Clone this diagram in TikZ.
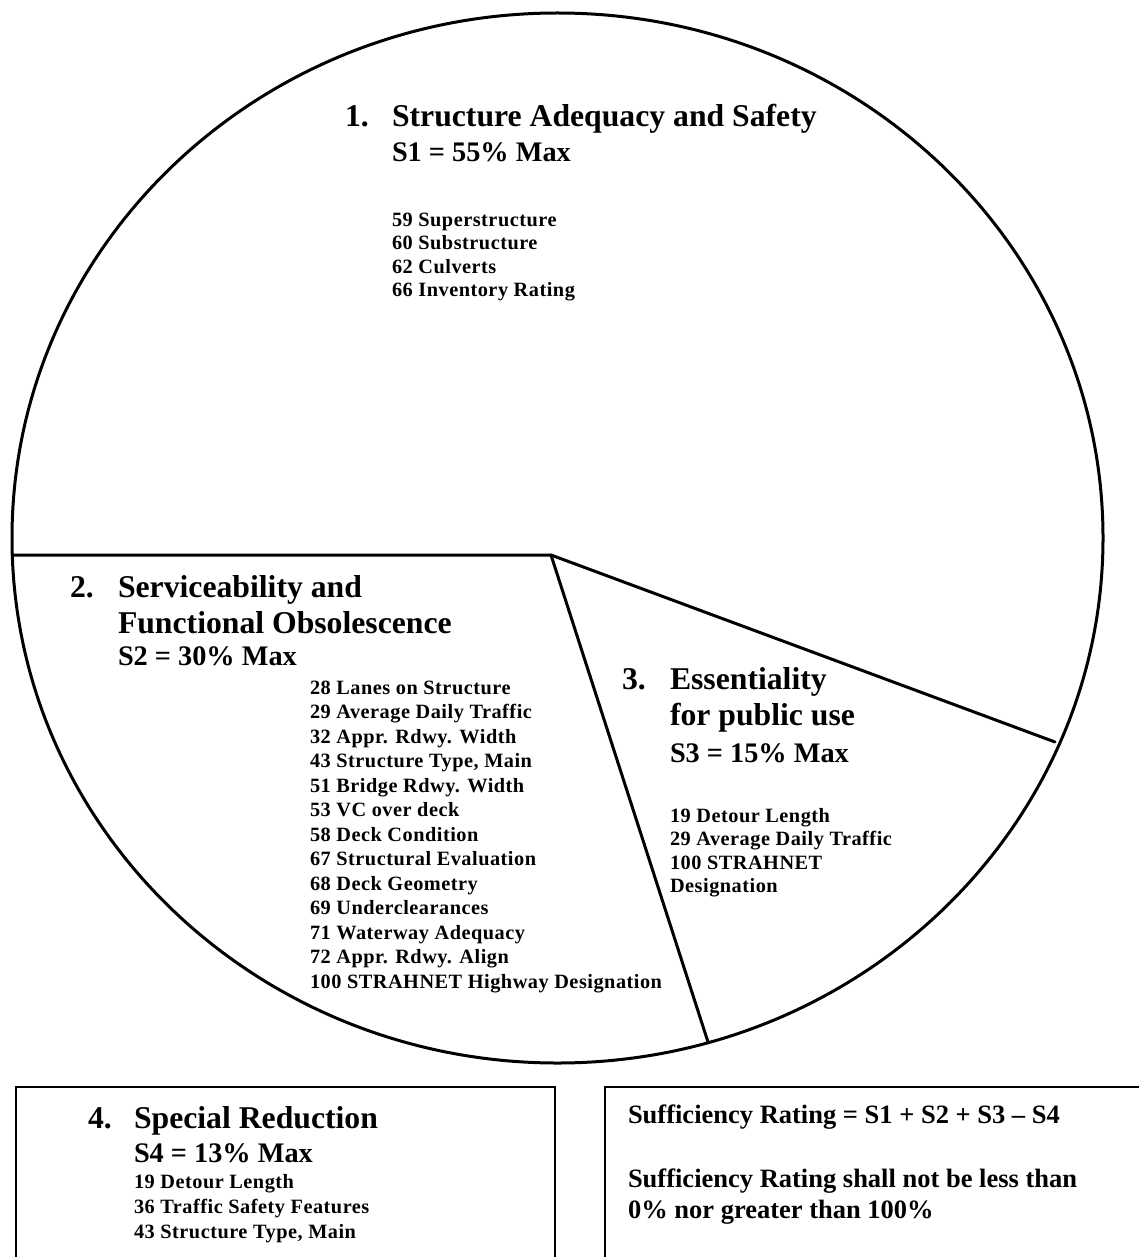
\documentclass[tikz,border=0pt]{standalone}
\usepackage{fontspec}
\setmainfont{Liberation Serif}
\newfontfamily\itemfam{Liberation Serif}[LetterSpace=2.5]
\begin{document}
\begin{tikzpicture}[x=1pt,y=-1pt,
  txt/.style={anchor=base west,inner sep=0pt,outer sep=0pt},
  head/.style={txt,font=\fontsize{31.7}{36}\selectfont\bfseries},
  pct/.style={txt,font=\fontsize{28.3}{32}\selectfont\bfseries},
  itm/.style={txt,font=\itemfam\fontsize{20.3}{24}\selectfont\bfseries},
  note/.style={txt,font=\fontsize{26.5}{30}\selectfont\bfseries},
  pieline/.style={line width=3pt,line cap=round},
  boxline/.style={line width=1.3pt}]
\useasboundingbox (0,0) rectangle (1139,1257);

% pie outline and slice boundaries
\draw[line width=3pt] (557.5,538) ellipse [x radius=545.5, y radius=525];
\coordinate (hub) at (551,555);
\coordinate (west) at (12,555);
\coordinate (east) at (1055,742);
\coordinate (south) at (708,1042);
\draw[pieline] (west) -- (hub) -- (east);
\draw[pieline] (hub) -- (south);

% slice 1
\node[head] (n1) at (345,127) {1.};
\node[head] (t1) at (392,127) {Structure Adequacy and Safety};
\node[pct]  (p1) at (392,162) {S1 = 55\% Max};
\node[itm]  (a1) at (392,226) {59 Superstructure};
\node[itm]  (a2) at (392,249.5) {60 Substructure};
\node[itm]  (a3) at (392,273) {62 Culverts};
\node[itm]  (a4) at (392,296.5) {66 Inventory Rating};

% slice 2
\node[head] (n2) at (70,597) {2.};
\node[head] (t2) at (118,597) {Serviceability and};
\node[head] (t2b) at (118,633) {Functional Obsolescence};
\node[pct]  (p2) at (118,665) {S2 = 30\% Max};
\foreach \k/\s in {0/{28 Lanes on Structure},1/{29 Average Daily Traffic},
  2/{32 Appr. Rdwy. Width},3/{43 Structure Type, Main},4/{51 Bridge Rdwy. Width},
  5/{53 VC over deck},6/{58 Deck Condition},7/{67 Structural Evaluation},
  8/{68 Deck Geometry},9/{69 Underclearances},10/{71 Waterway Adequacy},
  11/{72 Appr. Rdwy. Align},12/{100 STRAHNET Highway Designation}}
  \node[itm] (b\k) at (310,694+24.5*\k) {\s};

% slice 3
\node[head] (n3) at (622,689) {3.};
\node[head] (t3) at (670,689) {Essentiality};
\node[head] (t3b) at (670,725) {for public use};
\node[pct]  (p3) at (670,762) {S3 = 15\% Max};
\node[itm]  (c1) at (670,822) {19 Detour Length};
\node[itm]  (c2) at (670,845.5) {29 Average Daily Traffic};
\node[itm]  (c3) at (670,869) {100 STRAHNET};
\node[itm]  (c4) at (670,892.5) {Designation};

% special reduction box
\draw[boxline] (16,1262) -- (16,1087) -- (555,1087) -- (555,1262);
\node[head] (n4) at (88,1128) {4.};
\node[head] (t4) at (134,1128) {Special Reduction};
\node[pct]  (p4) at (134,1162) {S4 = 13\% Max};
\node[itm]  (d1) at (134,1188) {19 Detour Length};
\node[itm]  (d2) at (134,1213) {36 Traffic Safety Features};
\node[itm]  (d3) at (134,1238) {43 Structure Type, Main};

% formula box
\draw[boxline] (605,1262) -- (605,1087) -- (1145,1087);
\node[note] (f1) at (628,1123) {Sufficiency Rating = S1 + S2 + S3 – S4};
\node[note] (f2) at (628,1187) {Sufficiency Rating shall not be less than};
\node[note] (f3) at (628,1218) {0\% nor greater than 100\%};
\end{tikzpicture}
\end{document}
